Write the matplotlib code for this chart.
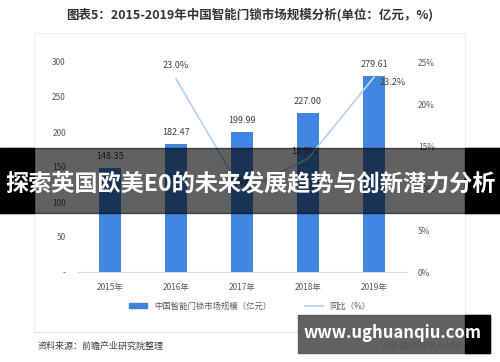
import matplotlib.pyplot as plt
from matplotlib.patches import Rectangle
from matplotlib.lines import Line2D

plt.rcParams['font.family'] = ['Noto Sans CJK SC', 'DejaVu Sans']

years = ["2015年", "2016年", "2017年", "2018年", "2019年"]
market = [148.35, 182.47, 199.99, 227.00, 279.61]
growth_years = [1, 2, 3, 4]
growth = [23.0, 9.6, 13.5, 23.2]
left_ticks = [0, 50, 100, 150, 200, 250, 300]
left_labels = ["-", "50", "100", "150", "200", "250", "300"]
right_ticks = [0, 5, 10, 15, 20, 25]

W, H = 500, 362
fig = plt.figure(figsize=(5, 3.62), dpi=100)


def px(x0, y0, x1, y1):
    # pixel box (top-left origin) -> figure fraction rect
    return [x0 / W, 1 - y1 / H, (x1 - x0) / W, (y1 - y0) / H]


# outer light frame
fig.patches.append(Rectangle((34 / W, 1 - 332 / H), 431 / W, 299 / H,
                             transform=fig.transFigure, fill=False,
                             edgecolor="#eeeeee", lw=0.8))

ax = fig.add_axes(px(77, 62, 407, 272))
xs = range(len(years))
ax.bar(xs, market, width=0.32, color="#4285e0", zorder=2)
ax.set_ylim(0, 300)
ax.set_xlim(-0.5, 4.5)
ax.set_yticks(left_ticks)
ax.set_yticklabels(left_labels)
ax.set_xticks(list(xs))
ax.set_xticklabels(years)
for s in ["top", "right", "left"]:
    ax.spines[s].set_visible(False)
ax.spines["bottom"].set_color("#d9d9d9")
ax.tick_params(length=0, labelsize=6, colors="#595959", pad=8)
for x, v in zip(xs, market):
    ax.text(x, v + 10, f"{v:.2f}", ha="center", va="bottom",
            fontsize=6.5, color="#404040")

ax2 = ax.twinx()
ax2.plot(growth_years, growth, color="#b7d3f5", lw=1.3, zorder=3)
ax2.set_ylim(0, 25)
ax2.set_yticks(right_ticks)
ax2.set_yticklabels([f"{t}%" for t in right_ticks])
for s in ["top", "right", "left", "bottom"]:
    ax2.spines[s].set_visible(False)
ax2.tick_params(length=0, labelsize=6, colors="#595959", pad=8)
offsets = {1: (0, 1.6, "center"), 2: (0, 1.2, "center"),
           3: (-0.05, 0.9, "center"), 4: (0.08, -0.6, "left")}
for x, v in zip(growth_years, growth):
    dx, dy, ha = offsets[x]
    ax2.text(x + dx, v + dy, f"{v:.1f}%", ha=ha, va="center",
             fontsize=6.5, color="#404040")

fig.text(0.5, 1 - 15 / H, "图表5：2015-2019年中国智能门锁市场规模分析(单位：亿元，%)",
         ha="center", va="center", fontsize=9, fontweight="bold",
         color="#333333")

# legend
handles = [Rectangle((0, 0), 1, 1, color="#4285e0"),
           Line2D([0], [0], color="#b7d3f5", lw=1.3)]
fig.legend(handles, ["中国智能门锁市场规模（亿元）", "同比（%）"],
           loc="center", bbox_to_anchor=(0.5, 1 - 306 / H), ncol=2,
           frameon=False, fontsize=6, handlelength=2.2, handleheight=0.6,
           columnspacing=4, labelcolor="#595959")

fig.add_artist(Line2D([34 / W, 465 / W], [1 - 332 / H, 1 - 332 / H],
                      color="#e6e6e6", lw=0.8))
fig.text(38 / W, 1 - 346 / H, "资料来源：前瞻产业研究院整理", ha="left",
         va="center", fontsize=6.5, color="#404040")
fig.text(462 / W, 1 - 346 / H, "@前瞻经济学人APP", ha="right",
         va="center", fontsize=6.5, color="#404040")

# banner overlay
fig.patches.append(Rectangle((0, 1 - 213 / H), 1, 65 / H,
                             transform=fig.transFigure, color="black",
                             alpha=0.62, zorder=10))
fig.patches.append(Rectangle((0, 1 - 213 / H), 34 / W, 65 / H,
                             transform=fig.transFigure, color="black",
                             zorder=10))
fig.patches.append(Rectangle((465 / W, 1 - 213 / H), 35 / W, 65 / H,
                             transform=fig.transFigure, color="black",
                             zorder=10))
fig.text(0.5, 1 - 184 / H, "探索英国欧美E0的未来发展趋势与创新潜力分析",
         ha="center", va="center", fontsize=16.7, fontweight="bold",
         color="white", zorder=11)

# site watermark box
fig.patches.append(Rectangle((298 / W, 1 - 353 / H), 192 / W, 38 / H,
                             transform=fig.transFigure, color="#555555",
                             alpha=0.92, zorder=10))
fig.patches.append(Rectangle((465 / W, 1 - 353 / H), 25 / W, 38 / H,
                             transform=fig.transFigure, color="black",
                             zorder=10))
fig.text(393 / W, 1 - 333 / H, "www.ughuanqiu.com", ha="center",
         va="center", fontsize=12, fontweight="bold", color="white",
         zorder=11)

fig.savefig("out.png", dpi=100)
